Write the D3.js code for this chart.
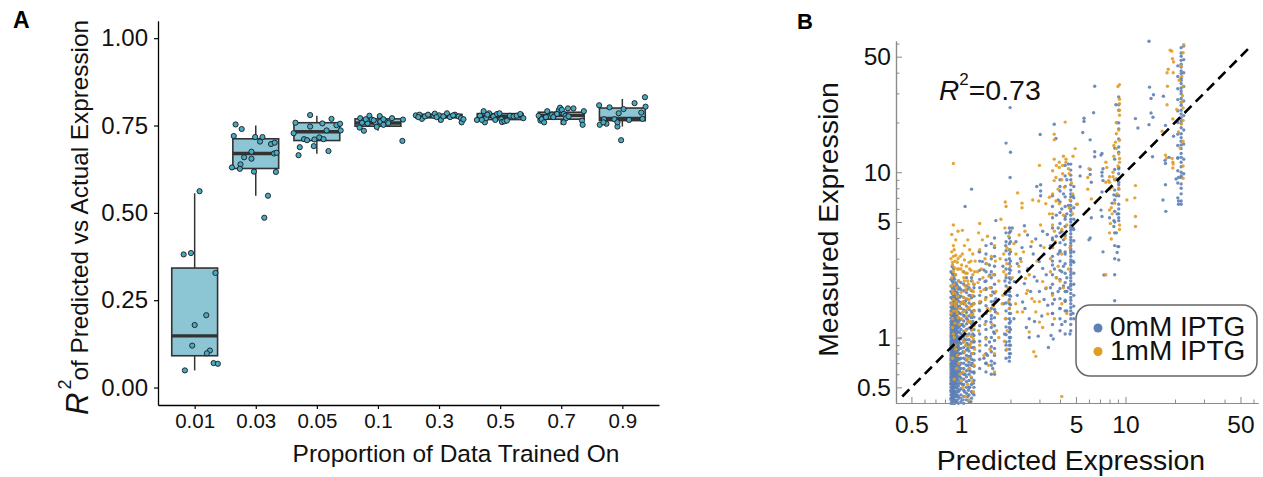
<!DOCTYPE html>
<html><head><meta charset="utf-8">
<script src="https://cdn.jsdelivr.net/npm/d3@7"></script>
<style>
body{margin:0;background:#fff}
svg{display:block}
text{font-family:"Liberation Sans",Arial,Helvetica,sans-serif}
</style>
</head><body>
<svg id="c" width="1263" height="477"></svg>
<script>
// ---------------- Panel A data ----------------
const catsA = ["0.01","0.03","0.05","0.1","0.3","0.5","0.7","0.9"];
const yTicksA = [0, 0.25, 0.5, 0.75, 1.0];
const boxQ1   = [0.091,0.627,0.707,0.748,0.772,0.767,0.768,0.764];
const boxMed  = [0.148,0.670,0.732,0.757,0.777,0.776,0.779,0.770];
const boxQ3   = [0.342,0.712,0.758,0.769,0.782,0.784,0.788,0.800];
const whiskLo = [0.049,0.549,0.669,0.735,0.759,0.759,0.752,0.747];
const whiskHi = [0.556,0.750,0.778,0.778,0.785,0.791,0.801,0.826];
// [jitter (fraction of category step), R^2]
const pts001 = [[0.08,0.562],[-0.18,0.381],[-0.06,0.385],[0.34,0.328],[0.19,0.207],[0,0.179],[-0.04,0.120],[0.25,0.106],[0.2,0.098],[0.31,0.070],[0.38,0.068],[-0.16,0.049]];
const pts003 = [[-0.33,0.753],[-0.23,0.740],[-0.36,0.720],[-0.01,0.717],[0.11,0.717],[0.07,0.704],[0.25,0.697],[0.31,0.701],[-0.07,0.675],[0.3,0.670],[0.34,0.672],[-0.19,0.659],[-0.07,0.655],[-0.25,0.639],[-0.39,0.630],[-0.26,0.626],[-0.03,0.618],[0.33,0.617],[0.2,0.549],[0.14,0.486]];
const pts005 = [[-0.11,0.780],[-0.35,0.758],[0.24,0.769],[0.09,0.756],[-0.11,0.747],[0.32,0.751],[0.38,0.755],[0.39,0.736],[0.16,0.736],[-0.38,0.728],[-0.21,0.711],[-0.16,0.708],[-0.04,0.710],[0.04,0.716],[0.11,0.711],[-0.28,0.688],[-0.05,0.691],[0.19,0.677],[-0.3,0.665]];
const pts01 = [[-0.29,0.771],[-0.14,0.778],[0.03,0.777],[0.23,0.771],[0.41,0.767],[-0.23,0.763],[-0.17,0.756],[-0.04,0.758],[0.04,0.761],[0.12,0.761],[-0.3,0.744],[-0.23,0.735],[-0.02,0.746],[0.09,0.752],[-0.1,0.767],[-0.26,0.758],[-0.07,0.765],[0.4,0.706],[0.17,0.757],[-0.2,0.768],[0.09,0.768]];
const pts03 = [[-0.38,0.779],[-0.32,0.781],[-0.28,0.769],[-0.23,0.776],[-0.18,0.781],[-0.09,0.778],[-0.07,0.784],[0,0.779],[0.03,0.766],[0.07,0.776],[0.13,0.785],[0.18,0.774],[0.26,0.781],[0.32,0.776],[0.36,0.771],[0.37,0.759],[0.4,0.768],[-0.34,0.774],[-0.04,0.774],[0.23,0.779]];
const pts05 = [[-0.38,0.766],[-0.33,0.778],[-0.27,0.791],[-0.25,0.759],[-0.23,0.771],[-0.18,0.785],[-0.11,0.776],[-0.05,0.783],[-0.01,0.785],[0.02,0.768],[0.03,0.760],[0.07,0.762],[0.11,0.764],[0.16,0.778],[0.22,0.776],[0.27,0.778],[0.33,0.783],[0.38,0.771],[-0.21,0.781],[-0.08,0.766],[-0.3,0.766]];
const pts07 = [[-0.37,0.778],[-0.34,0.764],[-0.32,0.768],[-0.28,0.759],[-0.23,0.791],[-0.19,0.776],[-0.15,0.781],[-0.1,0.781],[-0.04,0.794],[-0.02,0.801],[0.01,0.795],[0.04,0.783],[0.07,0.778],[0.08,0.771],[0.04,0.759],[0.11,0.799],[0.2,0.799],[0.34,0.764],[0.35,0.752],[0.37,0.791],[-0.07,0.783],[-0.13,0.774],[-0.25,0.774],[0.12,0.776]];
const pts09 = [[-0.38,0.808],[-0.21,0.802],[-0.06,0.785],[0.02,0.797],[0.2,0.814],[0.37,0.831],[0.38,0.804],[0.31,0.787],[0.33,0.769],[0.11,0.766],[-0.13,0.768],[-0.3,0.768],[-0.37,0.752],[-0.26,0.755],[-0.08,0.747],[-0.08,0.759],[-0.02,0.708],[-0.31,0.759]];
const ptsA = [pts001,pts003,pts005,pts01,pts03,pts05,pts07,pts09];

// ---------------- Panel B data ----------------
const xMajorB = [0.5,1,5,10,50];
const yMajorB = [0.5,1,5,10,50];
const minorB  = [0.4,0.6,0.7,0.8,0.9,2,3,4,6,7,8,9,20,30,40,60];
const diagLine = [0.44, 57.7];
// blue (0mM IPTG): stripes of measured values sharing one predicted value
const blueStripeX = [0.87,0.885,0.895,0.905,0.915,0.925,0.94,0.95,0.965,0.98,1.0,1.04,1.08,1.12,1.16,1.2,
                     1.3,1.42,1.53,1.6,1.88,1.97,2.0,3.6,4.0,4.3,4.65,4.85,8.6,9.1,20.8,21.8,22.6];
const blueStripeY = [
 [0.40,0.42,0.43,0.45,0.47,0.48,0.50,0.52,0.53,0.55,0.57,0.58,0.60,0.62,0.64,0.66,0.68,0.70,0.73,0.75,0.78,0.81,0.84,0.87,0.9,0.93,0.96,1.0,1.03,1.07,1.11,1.15,1.2,1.25,1.31,1.37,1.45,1.53,1.62,1.75,1.9,2.05,2.25,2.5],
 [0.40,0.41,0.43,0.44,0.46,0.47,0.49,0.50,0.52,0.54,0.55,0.57,0.59,0.61,0.63,0.65,0.67,0.69,0.72,0.74,0.77,0.79,0.82,0.85,0.88,0.91,0.94,0.97,1.0,1.04,1.08,1.12,1.17,1.22,1.28,1.35,1.42,1.5,1.6,1.72,1.85,2.0,2.2,2.45,2.7],
 [0.41,0.43,0.44,0.46,0.49,0.51,0.52,0.54,0.57,0.59,0.61,0.63,0.65,0.67,0.7,0.72,0.74,0.76,0.79,0.81,0.84,0.88,0.92,0.95,0.98,1.01,1.05,1.09,1.13,1.18,1.23,1.29,1.36,1.43,1.51,1.6,1.7,1.82,1.97,2.15,2.4,2.65],
 [0.40,0.42,0.45,0.47,0.48,0.51,0.53,0.56,0.58,0.60,0.62,0.64,0.66,0.68,0.71,0.73,0.75,0.78,0.8,0.83,0.86,0.9,0.93,0.96,0.99,1.02,1.06,1.1,1.14,1.19,1.25,1.31,1.38,1.46,1.55,1.65,1.78,1.92,2.1,2.3,2.6],
 [0.40,0.42,0.45,0.47,0.5,0.52,0.54,0.56,0.59,0.62,0.65,0.67,0.69,0.71,0.74,0.77,0.8,0.83,0.86,0.89,0.92,0.96,1.0,1.04,1.08,1.13,1.18,1.24,1.3,1.37,1.45,1.54,1.64,1.76,1.9,2.05,2.25],
 [0.41,0.44,0.46,0.5,0.53,0.55,0.58,0.6,0.63,0.66,0.7,0.72,0.76,0.8,0.84,0.87,0.92,0.95,1.0,1.05,1.1,1.16,1.2,1.27,1.33,1.4,1.48,1.58,1.7,1.82,1.98,2.15,2.4],
 [0.41,0.44,0.47,0.5,0.53,0.56,0.59,0.62,0.66,0.69,0.72,0.76,0.8,0.84,0.88,0.93,0.98,1.03,1.09,1.15,1.22,1.3,1.38,1.48,1.6,1.72,1.88,2.1],
 [0.42,0.45,0.49,0.52,0.57,0.61,0.64,0.69,0.73,0.78,0.82,0.87,0.91,0.96,1.01,1.07,1.13,1.19,1.26,1.34,1.44,1.55,1.68,1.86,2.05],
 [0.40,0.44,0.47,0.51,0.55,0.59,0.62,0.66,0.7,0.75,0.79,0.84,0.89,0.95,1.01,1.08,1.15,1.23,1.32,1.42,1.53,1.66,1.8,1.96,2.2],
 [0.43,0.48,0.53,0.58,0.63,0.68,0.74,0.8,0.86,0.93,1.0,1.08,1.17,1.27,1.4,1.55,1.75,2.0],
 [0.41,0.45,0.49,0.53,0.57,0.61,0.65,0.7,0.75,0.8,0.86,0.92,0.98,1.05,1.12,1.2,1.29,1.39,1.5,1.63,1.78,1.95,2.15],
 [0.40,0.44,0.48,0.52,0.56,0.6,0.65,0.7,0.75,0.81,0.87,0.94,1.01,1.09,1.17,1.26,1.36,1.47,1.6,1.75,1.92,2.1],
 [0.42,0.46,0.5,0.54,0.58,0.63,0.68,0.73,0.78,0.84,0.9,0.97,1.04,1.12,1.21,1.31,1.42,1.55,1.7,1.87,2.05,2.3],
 [0.41,0.45,0.5,0.55,0.6,0.65,0.71,0.77,0.83,0.9,0.97,1.05,1.14,1.24,1.35,1.48,1.62,1.8,2.0],
 [0.43,0.47,0.52,0.57,0.62,0.68,0.74,0.8,0.87,0.94,1.02,1.11,1.21,1.32,1.44,1.58,1.74,1.92,2.2],
 [0.45,0.5,0.55,0.61,0.67,0.73,0.8,0.87,0.95,1.03,1.12,1.22,1.33,1.46,1.6,1.78,2.0],
 [0.65,0.74,0.83,0.95,1.05,1.18,1.3,1.45,1.62,1.8,2.0,2.25,2.55,2.9,3.3],
 [0.62,0.7,0.8,0.9,1.0,1.12,1.25,1.4,1.56,1.75,1.95,2.2,2.5,2.8,3.2,3.6],
 [0.6,0.68,0.72,0.82,0.88,1.0,1.15,1.3,1.36,1.5,1.65,1.8,2.0,2.3,2.5,3.0,3.7],
 [0.6,0.7,0.78,0.86,0.96,1.06,1.18,1.32,1.48,1.66,1.86,2.1,2.4,2.7,3.1,3.5,4.0],
 [0.75,0.84,0.94,1.04,1.16,1.3,1.45,1.62,1.82,2.05,2.3,2.6,2.95,3.35,3.8,4.3],
 [0.72,0.76,0.8,0.85,0.9,0.95,1.0,1.08,1.15,1.22,1.3,1.4,1.5,1.6,1.7,1.8,1.9,2.0,2.15,2.3,2.45,2.6,2.8,3.0,3.2,3.4,3.7,4.0,4.3,4.6],
 [0.8,0.9,1.0,1.12,1.25,1.4,1.58,1.78,2.0,2.25,2.55,2.9,3.3,3.8,4.4],
 [1.2,1.4,1.6,1.85,2.1,2.4,2.75,3.1,3.5,4.0,4.6,5.3,6.2,7.2],
 [1.1,1.3,1.5,1.72,1.98,2.25,2.55,2.9,3.3,3.75,4.3,4.9,5.7,6.6,7.7,9.0],
 [1.05,1.25,1.45,1.65,1.9,2.15,2.45,2.8,3.2,3.65,4.15,4.7,5.4,6.2,7.1,8.2,9.5,11],
 [1.1,1.2,1.3,1.38,1.45,1.52,1.6,1.68,1.75,1.85,1.95,2.05,2.1,2.2,2.3,2.4,2.5,2.6,2.75,2.85,2.95,3.1,3.25,3.35,3.45,3.6,3.75,3.9,4.05,4.25,4.45,4.6,4.75,5.0,5.2,5.5,5.8,6.0,6.3,6.7,7.1,7.4,7.8,8.4,9.0,9.6,10.3,11.2],
 [1.3,1.55,1.8,2.1,2.45,2.85,3.3,3.85,4.5,5.2,6.1,7.0,8.2],
 [1.67,2.4,3.0,3.6,4.3,5.0,5.8,6.8,7.8,9.0,10.4,12,14],
 [5.1,5.3,5.6,6.0,6.4,7.2,7.9,8.4,8.7,9.1,9.8,10.5,10.7,13.2,14.2,15.9,18.3,19.9,23.7,25.6,28.5,2.95,3.55],
 [7.0,8.6,10.2,12.2,14.5,17,20,23.5,27.5,32,38,44],
 [6.4,6.7,7.4,8.0,8.5,9.3,9.5,10.0,10.8,11.5,12.3,13.0,13.9,14.6,15.4,16.2,17.1,18.6,19.7,20.5,21.4,22.5,23.7,25.4,26.5,27.9,29.9,31,32.3,34.4,36,37,39.5,41,43.3,45,47.5,50.3,52.6,56.7],
 [9.8,12,14.8,18,22,27,33,40,48,58]
];
// blue: other points [predicted, measured]
const blueScatter = [
 [1.03,0.42],[1.05,0.47],[1.1,0.44],[1.15,0.41],[1.18,0.46],[1.02,0.52],[1.13,0.5],[1.19,0.53],[1.06,0.6],[1.2,0.62],[1.11,0.68],[1.17,0.7],[1.07,0.74],[1.14,0.77],[1.19,0.8],[1.03,0.82],[1.1,0.86],[1.2,0.94],[1.05,0.97],[1.18,1.05],[1.15,1.15],[1.02,1.2],[1.1,1.28],[1.05,1.35],[1.17,1.4],[1.19,1.6],[1.06,1.66],[1.14,1.8],[1.09,1.95],[1.2,2.1],[1.16,2.3],[1.04,2.5],[1.13,0.63],[1.09,0.92],[1.07,1.45],[1.18,1.25],[1.11,0.48],
 [1.29,3.3],[1.35,2.88],[1.38,2.56],[1.4,2.18],[1.42,1.98],[1.49,2.75],[1.5,2.39],[1.56,1.89],[1.56,1.57],[1.52,1.24],[1.58,1.08],[1.49,0.94],[1.45,0.78],[1.38,0.75],[1.42,0.7],[1.56,0.65],[1.62,1.43],[1.63,1.72],[1.32,1.64],[1.29,1.47],
 [1.85,2.2],[1.82,1.6],[1.87,3.6],[1.84,1.05],[1.8,2.7],[1.88,0.9],
 [1.99,24.6],[1.88,15],[2.0,13.2],[1.99,9.3],[1.16,7.9],[1.06,6.2],[1.63,5.1],
 [3.03,16.9],[3.69,19.5],[3.78,16],[3.05,8.4],[2.89,8.2],[3.05,7.7],[3.05,7.2],
 [2.11,2.18],[2.26,2.5],[2.43,2.12],[2.54,4.17],[2.66,3.55],[2.85,3.95],[2.99,2.88],[3.14,2.62],[3.2,3.2],[3.28,1.98],[3.37,1.57],[3.53,1.03],[2.16,3.8],[2.79,2.33],[2.37,1.64],[2.6,1.3],[3.0,1.9],[2.43,4.75],[3.14,4.4],[2.6,1.0],[2.95,1.02],[3.4,0.87],[3.64,0.98],[4.6,1.05],
 [2.1,1.3],[2.2,1.8],[2.3,3.0],[2.45,1.5],[2.55,2.6],[2.65,1.9],[2.75,3.2],[2.9,2.2],[3.05,3.6],[3.2,1.7],[3.3,2.4],[2.35,3.5],[2.5,1.15],[2.8,1.25],[3.1,1.35],[2.2,2.8],[3.35,4.2],[2.05,4.6],
 [3.7,1.7],[3.8,2.3],[3.6,2.9],[3.9,3.2],[3.5,3.6],[3.8,4.1],[3.6,1.4],[3.9,1.9],[3.7,2.6],[3.5,2.0],[4.0,1.5],[4.1,1.2],[3.8,5.5],[3.9,6.8],[4.0,8.2],[3.6,3.9],[4.2,2.7],[4.4,1.9],[4.3,3.3],[4.1,4.4],[4.5,2.0],[4.8,1.4],[4.8,2.9],[4.8,4.6],[4.8,7.2],[4.4,5.6],[4.2,7.4],[4.4,9.0],[4.3,5.2],[4.1,6.0],[4.5,6.3],[4.2,3.9],[4.4,2.3],[4.0,3.35],[3.9,4.6],[4.1,2.5],[4.5,11.2],[4.4,1.45],[4.3,1.68],[4.2,2.05],
 [6.1,4.0],[7.3,3.3],[7.4,2.39],[8.9,3.27],[8.5,4.7],[9.0,3.55],[8.8,4.3],[6.0,3.9],
 [6.5,33.1],[6.4,22.9],[5.6,21.2],[5.6,20.3],[5.5,17.4],[6.1,15.7],[6.5,13.3],[6.5,12.4],[7.1,12.7],[7.2,13.0],[5.3,10.8],[6.1,10.4],[5.3,9.5],[6.1,9.7],[6.2,8.7],[7.2,10],[7.2,9.5],[7.3,8.9],[7.2,7.6],[7.3,10.5],[8.5,7.3],[8.3,6.5],[7.1,5.9],[7.2,5.4],[6.2,5.3],[8.0,5.3],
 [8.75,25.6],[8.9,19.9],[8.8,9.1],[8.8,7.2],[8.9,5.6],[8.5,5.1],
 [11.5,21.1],[11.9,18.5],[13.9,19.4],[14.3,22.8],[14.7,21.5],[14.3,27.9],[14.8,29.4],[14.0,32.7],[17.0,28.8],[17.5,19.2],[19.6,16.5],[14.6,12.4],[17.4,11.8],[17.5,11.3],[20.8,12.2],[18.4,12.3],[17.5,8.4],[16.9,6.8],[21.0,6.7],[21.0,6.4],[17.6,5.8],[20.3,9.1],[21.0,9.3],[13.9,62]
];
// orange (1mM IPTG): [predicted, measured]
const orangeScatter = [
 [0.88,3.3],[0.9,3.1],[0.92,2.9],[0.89,2.75],[0.95,2.6],[0.9,2.5],[0.93,2.4],[0.88,2.3],[0.97,2.2],[0.91,2.1],[0.94,2.0],[0.89,1.92],[0.92,1.85],[0.96,1.78],[0.9,1.7],[0.88,1.6],[0.93,1.55],[0.9,1.45],[0.95,1.4],[0.89,1.3],[0.92,1.22],
 [1.02,3.2],[1.05,2.95],[1.08,2.7],[1.12,2.85],[1.15,2.55],[1.18,2.4],[1.04,2.3],[1.1,2.2],[1.2,2.1],[1.06,2.05],[1.14,1.95],[1.0,1.88],[1.17,1.8],[1.09,1.72],[1.03,1.65],[1.19,1.6],[1.12,1.52],[1.06,1.45],[1.15,1.38],[1.01,1.3],[1.1,1.25],[1.2,1.18],[1.07,1.1],[1.16,1.02],[1.04,0.95],[1.13,0.88],[1.18,0.8],[1.08,0.74],[1.2,0.68],[1.03,0.62],[1.15,0.58],[1.1,0.52],[1.19,0.47],[1.06,0.44],[0.9,1.05],[0.92,0.9],[0.89,0.75],[0.94,0.65],[0.91,0.56],[0.9,3.6],[0.93,3.9],[0.9,4.8],[0.88,4.2],[1.02,4.45],[1.3,4.9],[0.9,11.3],[0.96,3.0],[1.0,2.6],[0.98,1.5],[1.13,3.4],[1.07,2.45],[0.91,2.65],[0.94,1.65],
 [0.87,3.0],[0.89,2.85],[0.91,3.4],[0.93,3.15],[0.95,2.85],[0.97,2.6],[0.99,3.1],[1.01,2.75],[1.03,2.5],[1.05,2.2],[1.07,1.95],[1.09,2.45],[1.11,2.1],[1.13,2.6],[1.15,2.9],[1.17,2.2],[1.19,1.9],[1.21,2.5],[0.88,2.05],[0.9,1.85],[0.92,1.6],[0.94,1.45],[0.96,1.32],[0.98,1.2],[1.0,1.6],[1.02,1.42],[1.04,1.75],[1.06,1.6],[1.08,1.35],[1.1,1.5],[1.12,1.7],[1.14,1.25],[1.16,1.55],[1.18,1.38],[1.2,1.45],[0.87,1.4],[0.89,1.15],[0.91,1.0],[0.93,0.85],[0.95,0.78],[0.97,0.7],[0.99,0.6],[1.01,0.55],[1.03,0.5],[1.05,0.82],[1.07,0.9],[1.09,1.02],[1.11,0.75],[1.13,0.65],[1.15,0.92],[1.17,1.12],[1.19,0.98],[1.21,0.85],[1.12,0.42],[1.17,0.54],[0.96,4.4],[1.05,3.6],[1.1,3.9],[1.18,3.2],[1.22,2.9],
 [1.28,4.3],[1.35,3.9],[1.45,4.1],[1.3,3.4],[1.4,3.0],[1.33,2.6],[1.48,2.35],[1.27,2.15],[1.38,1.95],[1.52,1.8],[1.3,1.65],[1.45,1.5],[1.35,1.35],[1.55,1.2],[1.28,1.1],[1.42,0.98],[1.5,0.85],[1.38,0.78],[1.47,0.68],[1.6,0.62],[1.62,2.9],[1.6,3.6],[1.58,1.55],[1.65,1.1],
 [1.26,2.5],[1.32,1.9],[1.36,2.3],[1.41,1.7],[1.44,2.8],[1.5,2.0],[1.53,3.1],[1.57,2.4],[1.63,1.9],[1.67,1.4],[1.7,2.2],[1.73,3.0],[1.78,1.6],[1.82,2.5],[1.87,1.9],[1.9,2.8],[1.95,1.65],[1.99,3.4],[1.3,0.9],[1.4,1.2],[1.5,1.45],[1.6,0.8],[1.7,1.0],[1.9,0.85],
 [1.85,4.6],[1.95,4.1],[1.9,3.5],[1.82,3.2],[2.0,2.7],[1.88,2.4],[1.93,2.0],[1.8,1.8],[1.97,1.5],[1.86,1.3],[1.91,1.1],[1.84,0.95],[1.86,6.6],[1.88,6.2],[1.75,5.2],
 [2.16,3.2],[2.32,2.88],[2.47,2.28],[2.54,1.93],[2.7,1.72],[2.85,1.43],[2.37,1.43],[3.0,1.65],[2.26,4.17],[2.7,3.8],[3.14,2.18],[2.8,1.65],[2.5,1.85],[2.6,1.08],[2.85,0.77],[2.77,0.82],[3.37,1.39],[2.2,1.43],[3.14,1.15],[3.0,1.24],
 [2.05,2.3],[2.15,1.6],[2.25,2.7],[2.4,3.3],[2.6,2.4],[2.9,2.9],[3.2,3.5],[3.3,2.0],[2.45,4.4],[3.05,4.8],[2.1,3.7],
 [2.21,7.5],[2.73,6.8],[2.35,6.5],[2.35,6.1],[2.97,6.7],[3.0,11],[3.69,17],[3.69,15.7],[4.3,20.1],[4.1,0.44],
 [3.69,12.0],[3.96,11.5],[4.15,11.0],[4.35,12.0],[4.35,11.5],[3.96,10.7],[3.61,10.2],[4.15,9.8],[3.78,9.3],[3.69,8.9],[4.55,9.8],[4.25,8.1],[3.61,7.4],[4.77,7.4],[3.78,6.7],[3.96,6.45],[3.45,7.06],[3.28,6.45],[4.55,6.1],[4.77,5.6],[3.61,5.6],[3.45,5.6],[4.95,13.9],[5.05,6.4],
 [3.6,4.8],[3.7,4.4],[4.1,4.5],[4.3,4.0],[3.6,3.5],[4.1,3.2],[3.9,2.7],[4.5,2.6],[3.8,2.3],[3.6,1.8],[4.1,1.6],[4.4,1.4],[3.7,1.3],[4.6,3.5],[4.2,2.0],[3.5,2.5],
 [3.5,3.0],[3.75,3.8],[4.0,2.2],[4.2,5.5],[4.4,4.8],[4.6,6.8],[4.7,8.6],[3.9,7.9],[4.1,9.0],[4.5,10.5],[3.8,11.0],[4.2,12.5],[4.8,12.5],
 [9.2,33.9],[9.2,22.1],[9.2,23.7],[8.8,17.1],[8.7,15.2],[9.2,15.6],[8.5,14.5],[8.8,13.9],[9.1,12.9],[9.2,12.1],[9.2,11.5],[7.6,11.5],[7.7,10.7],[8.0,9.4],[7.9,8.9],[7.6,8.7],[8.0,8.7],[8.3,8.1],[8.0,7.9],[11.5,8.3],[11.4,7.0],[10.2,6.8],[8.0,5.9],[8.2,6.1],[8.3,5.6],[11.5,5.4],[6.2,6.9],[5.9,9.3],[6.0,10.5],[5.9,7.9],[5.1,6.4],[9.0,33],[9.2,27.6],[8.4,9.4],
 [8.6,6.5],[8.9,7.4],[9.1,8.0],[8.7,9.0],[8.4,10.0],[9.0,10.9],[8.5,12.5],[9.1,18],[8.8,20],[9.2,26],
 [8.1,4.9],[11.5,4.7],[9.2,4.8],[9.2,4.5],[8.0,4.3],[8.2,3.95],[7.6,2.4],
 [18.7,54.7],[19.3,48.6],[19.6,46.4],[17.9,40],[18.0,33.1],[22.0,38],[22.0,26.5],[22.4,20.6],[21.9,19.6],[19.5,11.2],[19.4,10.6],[19.2,12.1],[19.1,54],[19.5,40],[18.2,42],[22.4,52.8],[22.4,33],[22.4,24.5],[22.4,15.4],[22.4,10.9],[22.4,9.2],[16.7,17.7],[17.5,12.7],[17.8,12.2],[19.4,11.5],[17.9,25.6],[19.4,21],
 [21.5,14],[21.0,17.5],[22.2,29],[21.8,44],[21.2,36],[22.6,59],[20.5,24]
];
const legendLabels = ["0mM IPTG","1mM IPTG"];
const seriesColors = ["#5e81b5","#e19c24"];

// ---------------- drawing ----------------
const svg = d3.select("#c");
const FONT = '"Liberation Sans",Arial,Helvetica,sans-serif';

// ===== Panel A =====
const xA = d3.scalePoint().domain(catsA).range([158,659]).padding(0.6);
const stepA = xA.step();
const yA = d3.scaleLinear().domain([-0.05,1.05]).range([405,20.7]);
const gA = svg.append("g");

catsA.forEach((c,i)=>{
  const cx = xA(c), w = stepA*0.75;
  gA.append("line").attr("x1",cx).attr("x2",cx).attr("y1",yA(whiskHi[i])).attr("y2",yA(boxQ3[i]))
    .attr("stroke","#333").attr("stroke-width",1.5);
  gA.append("line").attr("x1",cx).attr("x2",cx).attr("y1",yA(whiskLo[i])).attr("y2",yA(boxQ1[i]))
    .attr("stroke","#333").attr("stroke-width",1.5);
  gA.append("rect").attr("x",cx-w/2).attr("y",yA(boxQ3[i])).attr("width",w)
    .attr("height",yA(boxQ1[i])-yA(boxQ3[i])).attr("fill","#8cc5d3").attr("stroke","#333").attr("stroke-width",1.6);
  gA.append("line").attr("x1",cx-w/2).attr("x2",cx+w/2).attr("y1",yA(boxMed[i])).attr("y2",yA(boxMed[i]))
    .attr("stroke","#333").attr("stroke-width",3.4);
});
ptsA.forEach((arr,i)=>{
  gA.selectAll(null).data(arr).enter().append("circle")
    .attr("cx",d=>xA(catsA[i])+d[0]*stepA).attr("cy",d=>yA(d[1])).attr("r",2.6)
    .attr("fill","#48a9c3").attr("stroke","#1b1b1b").attr("stroke-width",0.9);
});

const axYA = gA.append("g").attr("transform","translate(158,0)")
  .call(d3.axisLeft(yA).tickValues(yTicksA).tickFormat(d3.format(".2f")).tickSize(4).tickSizeOuter(0).tickPadding(6));
const axXA = gA.append("g").attr("transform","translate(0,405)")
  .call(d3.axisBottom(xA).tickSize(4).tickSizeOuter(0).tickPadding(4));
[axYA,axXA].forEach(a=>{
  a.attr("font-family",FONT);
  a.select(".domain").attr("stroke","#000").attr("stroke-width",1.3);
  a.selectAll(".tick line").attr("stroke","#000").attr("stroke-width",1.2);
  a.selectAll("text").style("font-family",FONT).attr("fill","#111");
});
axYA.attr("font-size",24); axYA.selectAll("text").style("font-size","24px");
axXA.attr("font-size",20.5); axXA.selectAll("text").style("font-size","20.5px");

gA.append("text").attr("x",456).attr("y",462).attr("text-anchor","middle")
  .style("font-size","24.5px").attr("fill","#111").text("Proportion of Data Trained On");
const yt = gA.append("text").attr("transform","translate(88,415) rotate(-90)").attr("fill","#111");
yt.append("tspan").attr("font-style","italic").style("font-size","31px").text("R");
yt.append("tspan").style("font-size","18px").attr("dy",-17).attr("dx",3).text("2");
yt.append("tspan").style("font-size","24.3px").attr("dy",17).attr("dx",-1).text("of Predicted vs Actual Expression");

svg.append("text").attr("x",13).attr("y",28).style("font-size","23px").attr("font-weight","bold").attr("fill","#000").text("A");
svg.append("text").attr("x",797).attr("y",28.5).style("font-size","22px").attr("font-weight","bold").attr("fill","#000").text("B");

// ===== Panel B =====
const xB = d3.scaleLog().domain([0.403,63.9]).range([896,1258]);
const yB = d3.scaleLog().domain([0.402,62.2]).range([403,41]);
const gB = svg.append("g");
const inX = v => v>=xB.domain()[0] && v<=xB.domain()[1];
const inY = v => v>=yB.domain()[0] && v<=yB.domain()[1];

const bluePts = [];
blueStripeX.forEach((x,i)=> blueStripeY[i].forEach(y=> bluePts.push([x,y])));
blueScatter.forEach(p=>bluePts.push(p));

gB.selectAll(".b").data(bluePts).enter().append("circle")
  .attr("cx",d=>xB(d[0])).attr("cy",d=>yB(d[1])).attr("r",1.7)
  .attr("fill",seriesColors[0]).attr("fill-opacity",0.9);
gB.selectAll(".o").data(orangeScatter).enter().append("circle")
  .attr("cx",d=>xB(d[0])).attr("cy",d=>yB(d[1])).attr("r",1.7)
  .attr("fill",seriesColors[1]).attr("fill-opacity",0.9);

gB.append("line").attr("x1",xB(diagLine[0])).attr("y1",yB(diagLine[0]))
  .attr("x2",xB(diagLine[1])).attr("y2",yB(diagLine[1]))
  .attr("stroke","#000").attr("stroke-width",2.6).attr("stroke-dasharray","10,6");

const axCol = "#8a8a8a";
const axYB = gB.append("g").attr("transform","translate(896,0)")
  .call(d3.axisLeft(yB).tickValues(yMajorB).tickFormat(d=>String(d)).tickSize(-6).tickSizeOuter(0).tickPadding(5));
const axYBm = gB.append("g").attr("transform","translate(896,0)")
  .call(d3.axisLeft(yB).tickValues(minorB.filter(inY)).tickFormat("").tickSize(-3.5).tickSizeOuter(0));
const axXB = gB.append("g").attr("transform","translate(0,403)")
  .call(d3.axisBottom(xB).tickValues(xMajorB).tickFormat(d=>String(d)).tickSize(-6).tickSizeOuter(0).tickPadding(12.5));
const axXBm = gB.append("g").attr("transform","translate(0,403)")
  .call(d3.axisBottom(xB).tickValues(minorB.filter(inX)).tickFormat("").tickSize(-3.5).tickSizeOuter(0));
[axYB,axYBm,axXB,axXBm].forEach(a=>{
  a.select(".domain").attr("stroke",axCol).attr("stroke-width",1.2);
  a.selectAll(".tick line").attr("stroke",axCol).attr("stroke-width",1);
  a.selectAll("text").style("font-family",FONT).style("font-size","24.5px").attr("fill","#111");
});

gB.append("text").attr("x",1071).attr("y",470).attr("text-anchor","middle")
  .style("font-size","28.4px").attr("fill","#111").text("Predicted Expression");
gB.append("text").attr("transform","translate(838,219.5) rotate(-90)").attr("text-anchor","middle")
  .style("font-size","28.4px").attr("fill","#111").text("Measured Expression");

const r2 = gB.append("text").attr("x",939).attr("y",100).attr("fill","#111");
r2.append("tspan").attr("font-style","italic").style("font-size","28px").text("R");
r2.append("tspan").style("font-size","17px").attr("dy",-15).attr("dx",0).text("2");
r2.append("tspan").style("font-size","28.5px").attr("dy",15).text("=0.73");

// legend
const lg = gB.append("g");
lg.append("rect").attr("x",1076).attr("y",305).attr("width",181).attr("height",71).attr("rx",14)
  .attr("fill","#fff").attr("stroke","#666").attr("stroke-width",1.5);
legendLabels.forEach((t,i)=>{
  lg.append("circle").attr("cx",1098).attr("cy",328+i*23.5).attr("r",4.5).attr("fill",seriesColors[i]);
  lg.append("text").attr("x",1110).attr("y",335.5+i*24.5).style("font-size","28px").attr("fill","#111").text(t);
});
</script>
</body></html>
